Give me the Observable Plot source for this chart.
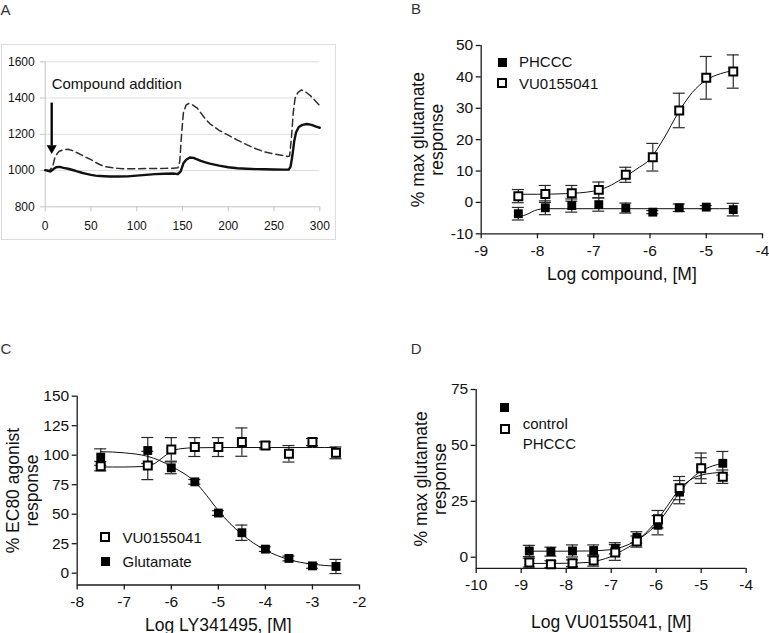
<!DOCTYPE html>
<html>
<head>
<meta charset="utf-8">
<script src="https://cdn.jsdelivr.net/npm/d3@7"></script>
<script src="https://cdn.jsdelivr.net/npm/@observablehq/plot@0.6"></script>
<style>
  html, body { margin: 0; padding: 0; background: #fff; }
  #root { position: relative; width: 769px; height: 633px; overflow: hidden; background: #fff;
          font-family: "Liberation Sans", Arial, sans-serif; }
  .panel { position: absolute; }
  .panel svg { overflow: visible; }
  .frameA { position: absolute; left: 1px; top: 44px; width: 335px; height: 196px; box-sizing: border-box;
            border: 1px solid #dcdcdc; }
  .letter { position: absolute; font: 15px/11px "Liberation Sans", Arial, sans-serif; color: #333; }
  .lg-sq { position: absolute; box-sizing: border-box; }
  .lg-fill { background: #000; width: 9px; height: 9px; }
  .lg-open { background: #fff; border: 2px solid #000; width: 10px; height: 10px; }
  .lg-txt { position: absolute; font: 15px/15px "Liberation Sans", Arial, sans-serif; color: #111; white-space: nowrap; }
</style>
</head>
<body>
<div id="root">
  <div class="frameA"></div>
  <div id="pA" class="panel" style="left:0px;top:40px"></div>
  <div id="pB" class="panel" style="left:384px;top:0px"></div>
  <div id="pC" class="panel" style="left:0px;top:330px"></div>
  <div id="pD" class="panel" style="left:384px;top:330px"></div>
</div>
<script>
// ---------------- Panel A data (fluorescence trace) ----------------
const xDomainA = [0, 300];
const yDomainA = [800, 1600];
const xTicksA = [0, 50, 100, 150, 200, 250, 300];
const yTicksA = [800, 1000, 1200, 1400, 1600];
const gridTicksA = [1000, 1200, 1400, 1600];
const dashedT = [0, 5, 8, 11, 15, 20, 25, 30, 35, 40, 45, 50, 55, 60, 65, 70, 75, 80, 85, 90, 100, 110, 120, 130, 140, 145,
  147, 149, 151, 154, 157, 160, 163, 166, 170, 175, 180, 185, 190, 195, 200, 210, 220, 230, 240, 250, 260, 265,
  267, 269, 271, 273, 276, 280, 285, 290, 295, 300];
const dashedV = [1002, 1003, 1020, 1080, 1105, 1115, 1117, 1110, 1098, 1085, 1072, 1060, 1045, 1032, 1022, 1018, 1014, 1012, 1010, 1010, 1010, 1011, 1011, 1012, 1013, 1015,
  1050, 1200, 1320, 1362, 1370, 1365, 1355, 1345, 1318, 1285, 1258, 1240, 1222, 1208, 1195, 1168, 1143, 1120, 1103, 1092, 1083, 1078,
  1080, 1180, 1320, 1400, 1430, 1445, 1432, 1412, 1385, 1358];
const solidT = [0, 3, 6, 9, 12, 16, 20, 25, 30, 35, 40, 45, 50, 55, 60, 70, 80, 90, 100, 110, 120, 130, 140, 145,
  148, 151, 154, 158, 162, 166, 170, 175, 180, 190, 200, 210, 220, 230, 240, 250, 260, 266,
  268, 270, 272, 274, 277, 281, 286, 291, 296, 300];
const solidV = [1002, 998, 995, 1008, 1018, 1020, 1015, 1010, 1003, 995, 988, 982, 976, 972, 970, 967, 967, 968, 972, 976, 980, 982, 984, 980,
  995, 1040, 1060, 1072, 1070, 1062, 1053, 1045, 1038, 1027, 1018, 1013, 1010, 1008, 1007, 1006, 1005, 1005,
  1020, 1080, 1160, 1210, 1240, 1252, 1257, 1252, 1242, 1236];
const annotationLabel = ["Compound addition"];
const annotationT = [7.1];
const annotationLabelY = [1478];
const arrowTop = [1372];
const arrowShaftEnd = [1135];
const arrowHeadCenter = [1124];

// ---------------- Panel B data ----------------
const seriesB = ["PHCCC", "VU0155041"];
const logB = [-8.34, -7.86, -7.39, -6.91, -6.43, -5.95, -5.48, -5.0, -4.52];
const phcccB = [-3.6, -1.7, -1.0, -0.7, -1.8, -3.1, -1.7, -1.5, -2.3];
const phcccBErr = [2.0, 2.2, 2.1, 2.1, 1.6, 0.5, 1.2, 0.5, 2.0];
const vuB = [2.0, 2.7, 2.9, 4.0, 8.8, 14.4, 29.3, 39.7, 41.7];
const vuBErr = [2.1, 2.7, 2.5, 2.5, 2.4, 4.4, 5.5, 6.8, 5.3];
const fitVuBx = [-8.34, -8.0, -7.5, -7.0, -6.75, -6.5, -6.25, -6.0, -5.75, -5.5, -5.25, -5.0, -4.75, -4.52];
const fitVuBy = [2.6, 2.6, 2.8, 3.6, 5.0, 7.5, 10.5, 13.8, 20.5, 28.5, 35, 39, 41, 42];
const fitPhBx = [-8.34, -8.25, -8.15, -8.05, -7.95, -7.85, -7.5, -7.0, -6.0, -5.0, -4.52];
const fitPhBy = [-4.4, -4.2, -3.5, -2.6, -2.15, -2.0, -2.0, -2.0, -2.0, -2.0, -2.0];
const xTicksB = [-9, -8, -7, -6, -5, -4];
const yTicksB = [-10, 0, 10, 20, 30, 40, 50];

// ---------------- Panel C data ----------------
const seriesC = ["VU0155041", "Glutamate"];
const logC = [-7.5, -6.5, -6.0, -5.5, -5.0, -4.5, -4.0, -3.5, -3.0, -2.5];
const vuC = [90.7, 91.3, 104.9, 106.9, 106.9, 111.1, 108.3, 101.2, 111.1, 102.0];
const vuCErr = [4, 12, 10, 8, 8, 12, 3, 7, 3, 5];
const gluC = [98.4, 104.0, 89.3, 77.4, 51.0, 34.3, 20.4, 12.5, 6.2, 5.7];
const gluCErr = [7, 11, 5, 2, 2, 6.5, 2, 2, 2, 6];
const fitVuCx = [-7.5, -7.0, -6.75, -6.5, -6.35, -6.2, -6.0, -5.8, -5.5, -5.0, -4.0, -3.0, -2.5];
const fitVuCy = [90, 90, 90.2, 91, 93, 97.5, 103, 105.5, 106.3, 106.5, 106.5, 106.5, 106.5];
const fitGluCx = [-7.5, -7.0, -6.5, -6.25, -6.0, -5.75, -5.5, -5.25, -5.0, -4.75, -4.5, -4.25, -4.0, -3.75, -3.5, -3.25, -3.0, -2.75, -2.5];
const fitGluCy = [103, 102, 99, 95.5, 90.5, 85, 77.5, 66, 53, 42, 33, 25.5, 19.5, 15, 11.5, 9.2, 7.6, 6.6, 6.0];
const xTicksC = [-8, -7, -6, -5, -4, -3, -2];
const yTicksC = [0, 25, 50, 75, 100, 125, 150];

// ---------------- Panel D data ----------------
const seriesD = ["control", "PHCCC"];
const logD = [-8.82, -8.34, -7.86, -7.39, -6.91, -6.43, -5.96, -5.48, -5.0, -4.52];
const ctrlD = [2.8, 2.5, 2.8, 3.0, 4.0, 8.9, 14.3, 29.1, 39.8, 42.0];
const ctrlDErr = [2.5, 2.0, 2.7, 2.5, 2.5, 2.5, 4.3, 5.2, 4.7, 5.3];
const phD = [-2.4, -3.1, -2.7, -1.5, 2.1, 7.0, 17.0, 30.9, 39.8, 36.0];
const phDErr = [2.0, 1.5, 1.5, 2.5, 3.5, 2.5, 3.9, 5.2, 6.8, 3.0];
const fitCtrlDx = [-8.82, -8.0, -7.5, -7.0, -6.75, -6.5, -6.25, -6.0, -5.75, -5.5, -5.25, -5.0, -4.75, -4.52];
const fitCtrlDy = [2.7, 2.7, 2.8, 3.4, 4.6, 6.8, 10, 14.5, 21, 28.5, 34.5, 38.5, 40.8, 42];
const fitPhDx = [-8.82, -8.0, -7.5, -7.25, -7.0, -6.75, -6.5, -6.25, -6.0, -5.75, -5.5, -5.25, -5.0, -4.75, -4.52];
const fitPhDy = [-2.8, -2.7, -2.3, -1.3, 0.3, 3.0, 6.0, 10.5, 16, 23, 30, 34.5, 36.7, 37.6, 38];
const xTicksD = [-10, -9, -8, -7, -6, -5, -4];
const yTicksD = [0, 25, 50, 75];

// ---------------- helpers ----------------
const fmtTick = d => String(d);
const AX = "#1a1a1a";
const EB = "#2a2a2a";
const FONT = "'Liberation Sans', Arial, sans-serif";

function errRows(xs, ys, es) {
  return xs.map((x, i) => ({x, y: ys[i], lo: ys[i] - es[i], hi: ys[i] + es[i]}));
}
function fitRows(xs, ys) {
  return xs.map((x, i) => ({x, y: ys[i]}));
}

function dosePlot(cfg) {
  const marks = [
    Plot.ruleX([cfg.xDomain[0]], {stroke: AX, strokeWidth: 1.3}),
    Plot.ruleY([cfg.yDomain[0]], {stroke: AX, strokeWidth: 1.3}),
    Plot.axisX(cfg.xTicks, {tickFormat: fmtTick, tickSize: 5, tickPadding: 6, stroke: AX, strokeWidth: 1.3,
      fill: "#111", fontSize: 15.5, label: null}),
    Plot.axisY(cfg.yTicks, {tickFormat: fmtTick, tickSize: 5, tickPadding: 3, stroke: AX, strokeWidth: 1.3,
      fill: "#111", fontSize: 15.5, label: null})
  ];
  for (const s of cfg.series) {
    marks.push(Plot.ruleX(s.rows, {x: "x", y1: "lo", y2: "hi", stroke: EB, strokeWidth: 1.2}));
    marks.push(Plot.ruleY(s.rows, {y: "hi", x1: "x", x2: "x", insetLeft: -6, insetRight: -6, stroke: EB, strokeWidth: 1.2}));
    marks.push(Plot.ruleY(s.rows, {y: "lo", x1: "x", x2: "x", insetLeft: -6, insetRight: -6, stroke: EB, strokeWidth: 1.2}));
  }
  for (const f of cfg.fits) {
    marks.push(Plot.line(f, {x: "x", y: "y", curve: "monotone-x", stroke: "#111", strokeWidth: 1}));
  }
  for (const s of cfg.series) {
    marks.push(s.filled
      ? Plot.dot(s.rows, {x: "x", y: "y", symbol: "square", r: 5, fill: "#000", stroke: "none"})
      : Plot.dot(s.rows, {x: "x", y: "y", symbol: "square", r: 4.5, fill: "#fff", stroke: "#000", strokeWidth: 2}));
  }
  marks.push(Plot.text([cfg.xLabel], {frameAnchor: "bottom", dy: cfg.xLabelDy, lineAnchor: "bottom",
    fontSize: 17.5, fill: "#111"}));
  marks.push(Plot.text([cfg.yLabel], {frameAnchor: "left", dx: -cfg.yLabelDx, rotate: -90, lineHeight: 1.1,
    textAnchor: "middle", lineAnchor: "middle", fontSize: 17.5, fill: "#111"}));
  return Plot.plot({
    width: cfg.width, height: cfg.height,
    marginLeft: cfg.m[0], marginRight: cfg.m[1], marginTop: cfg.m[2], marginBottom: cfg.m[3],
    x: {domain: cfg.xDomain, label: null},
    y: {domain: cfg.yDomain, label: null},
    style: {fontFamily: FONT, fontSize: "15px", color: "#111", background: "transparent", overflow: "visible"},
    marks
  });
}

// ---------------- Panel A ----------------
const dashedRows = dashedT.map((t, i) => ({t, v: dashedV[i]}));
const solidRows = solidT.map((t, i) => ({t, v: solidV[i]}));
const annA = annotationLabel.map((label, i) => ({label, t: annotationT[i], labelY: annotationLabelY[i],
  top: arrowTop[i], shaftEnd: arrowShaftEnd[i], head: arrowHeadCenter[i]}));

const plotA = Plot.plot({
  width: 340, height: 205,
  marginLeft: 44.7, marginRight: 20.7, marginTop: 21.3, marginBottom: 38.7,
  x: {domain: xDomainA, label: null},
  y: {domain: yDomainA, label: null},
  style: {fontFamily: FONT, fontSize: "12px", color: "#111", background: "transparent", overflow: "visible"},
  marks: [
    Plot.gridY(gridTicksA, {stroke: "#dedede", strokeOpacity: 1}),
    Plot.ruleX([xDomainA[0]], {stroke: "#c4c4c4"}),
    Plot.ruleY([yDomainA[0]], {stroke: "#c4c4c4"}),
    Plot.axisX(xTicksA, {tickFormat: fmtTick, tickSize: 5, tickPadding: 10, stroke: "#c4c4c4", fill: "#111", fontSize: 12, label: null}),
    Plot.axisY(yTicksA, {tickFormat: fmtTick, tickSize: 5, tickPadding: 5.5, stroke: "#c4c4c4", fill: "#111", fontSize: 12, label: null}),
    Plot.line(dashedRows, {x: "t", y: "v", stroke: "#2e2e2e", strokeWidth: 1.5, strokeDasharray: "7,4"}),
    Plot.line(solidRows, {x: "t", y: "v", stroke: "#111", strokeWidth: 2.4}),
    Plot.ruleX(annA, {x: "t", y1: "top", y2: "shaftEnd", stroke: "#000", strokeWidth: 2.3}),
    Plot.dot(annA, {x: "t", y: "head", symbol: "triangle", rotate: 180, r: 3.75, fill: "#000", stroke: "none"}),
    Plot.text(annA, {x: "t", y: "labelY", text: "label", textAnchor: "start", lineAnchor: "middle", fontSize: 15, fill: "#111"})
  ]
});
document.getElementById("pA").appendChild(plotA);

// ---------------- Panel B ----------------
document.getElementById("pB").appendChild(dosePlot({
  width: 385, height: 290, m: [96.7, 7, 45, 56.7],
  xDomain: [-9, -4], yDomain: [-10, 50], xTicks: xTicksB, yTicks: yTicksB,
  series: [
    {rows: errRows(logB, phcccB, phcccBErr), filled: true},
    {rows: errRows(logB, vuB, vuBErr), filled: false}
  ],
  fits: [fitRows(fitPhBx, fitPhBy), fitRows(fitVuBx, fitVuBy)],
  xLabel: "Log compound, [M]", xLabelDy: 46,
  yLabel: "% max glutamate\nresponse", yLabelDx: 54
}));

// ---------------- Panel C ----------------
document.getElementById("pC").appendChild(dosePlot({
  width: 384, height: 303, m: [76.7, 25, 65.7, 48.5],
  xDomain: [-8, -2], yDomain: [-10, 150], xTicks: xTicksC, yTicks: yTicksC,
  series: [
    {rows: errRows(logC, gluC, gluCErr), filled: true},
    {rows: errRows(logC, vuC, vuCErr), filled: false}
  ],
  fits: [fitRows(fitGluCx, fitGluCy), fitRows(fitVuCx, fitVuCy)],
  xLabel: "Log LY341495, [M]", xLabelDy: 45.5,
  yLabel: "% EC80 agonist\nresponse", yLabelDx: 55
}));

// ---------------- Panel D ----------------
document.getElementById("pD").appendChild(dosePlot({
  width: 385, height: 303, m: [91.7, 23.3, 59, 65.1],
  xDomain: [-10, -4], yDomain: [-5, 75], xTicks: xTicksD, yTicks: yTicksD,
  series: [
    {rows: errRows(logD, ctrlD, ctrlDErr), filled: true},
    {rows: errRows(logD, phD, phDErr), filled: false}
  ],
  fits: [fitRows(fitCtrlDx, fitCtrlDy), fitRows(fitPhDx, fitPhDy)],
  xLabel: "Log VU0155041, [M]", xLabelDy: 60,
  yLabel: "% max glutamate\nresponse", yLabelDx: 46
}));

// ---------------- legends & panel letters ----------------
const root = document.getElementById("root");
function addEl(cls, left, top, text) {
  const el = document.createElement("div");
  el.className = cls;
  el.style.left = left + "px";
  el.style.top = top + "px";
  if (text != null) el.textContent = text;
  root.appendChild(el);
}
// B legend
addEl("lg-sq lg-fill", 497.8, 58);
addEl("lg-sq lg-open", 497.3, 78.3);
addEl("lg-txt", 519, 54.4, seriesB[0]);
addEl("lg-txt", 519, 76, seriesB[1]);
// C legend
addEl("lg-sq lg-open", 100, 532);
addEl("lg-sq lg-fill", 100.5, 556.5);
addEl("lg-txt", 122.5, 529.7, seriesC[0]);
addEl("lg-txt", 122.5, 553.7, seriesC[1]);
// D legend
addEl("lg-sq lg-fill", 500, 402.8);
addEl("lg-sq lg-open", 499.5, 423.7);
addEl("lg-txt", 522.7, 416, seriesD[0]);
addEl("lg-txt", 522.7, 436, seriesD[1]);
// panel letters
const panelLetters = ["A", "B", "C", "D"];
addEl("letter", 0.5, 3.8, panelLetters[0]);
addEl("letter", 411, 3.3, panelLetters[1]);
addEl("letter", 0.5, 342.6, panelLetters[2]);
addEl("letter", 410.7, 342.6, panelLetters[3]);
</script>
</body>
</html>
